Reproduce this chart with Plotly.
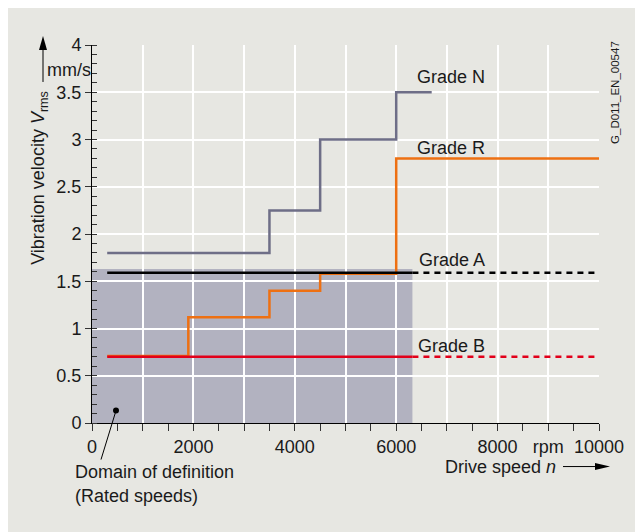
import plotly.graph_objects as go

# ---- data ----
grade_N_x = [300, 3500, 4500, 6000, 6700]
grade_N_y = [1.8, 2.25, 3.0, 3.5, 3.5]
grade_R_x = [300, 1900, 3500, 4500, 6000, 10000]
grade_R_y = [0.71, 1.12, 1.4, 1.58, 2.8, 2.8]
grade_A_level = 1.59
grade_B_level = 0.70
speed_start = 300
domain_end = 6320
domain_top = 1.63
speed_max = 10000
x_grid_step = 1000
x_tick_vals = [0, 2000, 4000, 6000, 8000, 9000, 10000]
x_tick_text = ["0", "2000", "4000", "6000", "8000", "rpm", "10000"]
y_tick_vals = [0, 0.5, 1, 1.5, 2, 2.5, 3, 3.5, 4]
y_tick_text = ["0", "0.5", "1", "1.5", "2", "2.5", "3", "3.5", "4"]

BG = "#e7e7e2"
SHADE = "#b2b2c0"
GREY_N = "#6e6e87"
ORANGE = "#ee7012"
RED = "#e2001a"
TXT = "#1a1a1a"
FONT = "Liberation Sans, Arial, sans-serif"

OFF = 8  # page body margin
W, H = 643, 532
L = 92 - OFF
T = 45 - OFF
R = W - (599 - OFF)
B = H - (423.4 - OFF)
PW = W - L - R
PH = H - T - B


def px(xs):
    return (xs - OFF - L) / PW


def py(ys):
    return (H - B - (ys - OFF)) / PH


fig = go.Figure()
fig.add_trace(go.Scatter(x=grade_N_x, y=grade_N_y, mode="lines", line_shape="hv",
                         line=dict(color=GREY_N, width=2.5), hoverinfo="skip"))
fig.add_trace(go.Scatter(x=grade_R_x, y=grade_R_y, mode="lines", line_shape="hv",
                         line=dict(color=ORANGE, width=2.5), hoverinfo="skip"))
fig.add_trace(go.Scatter(x=[speed_start, domain_end], y=[grade_A_level] * 2, mode="lines",
                         line=dict(color="black", width=2.5), hoverinfo="skip"))
fig.add_trace(go.Scatter(x=[domain_end, speed_max], y=[grade_A_level] * 2, mode="lines",
                         line=dict(color="black", width=2.5, dash="6px,5px"), hoverinfo="skip"))
fig.add_trace(go.Scatter(x=[speed_start, domain_end], y=[grade_B_level] * 2, mode="lines",
                         line=dict(color=RED, width=2.5), hoverinfo="skip"))
fig.add_trace(go.Scatter(x=[domain_end, speed_max], y=[grade_B_level] * 2, mode="lines",
                         line=dict(color=RED, width=2.5, dash="6px,5px"), hoverinfo="skip"))
# invisible trace carrying the labelled x axis
fig.add_trace(go.Scatter(x=[0, speed_max], y=[0, 0], xaxis="x2", mode="lines",
                         line=dict(width=0), opacity=0, hoverinfo="skip"))

shapes = []
shapes.append(dict(type="rect", xref="x", yref="y", x0=0, x1=domain_end, y0=0, y1=domain_top,
                   fillcolor=SHADE, line=dict(width=0), layer="below"))
# leader line + dot
shapes.append(dict(type="line", xref="paper", yref="paper", x0=px(116), y0=py(411), x1=px(101), y1=py(460),
                   line=dict(color="black", width=1)))
shapes.append(dict(type="circle", xref="paper", yref="paper", x0=px(113), x1=px(119), y0=py(408), y1=py(414),
                   fillcolor="black", line=dict(width=0)))
# y axis arrow
shapes.append(dict(type="line", xref="paper", yref="paper", x0=px(43), x1=px(43), y0=py(82), y1=py(48),
                   line=dict(color="black", width=1)))
shapes.append(dict(type="path", xref="paper", yref="paper",
                   path=f"M {px(43)} {py(36)} L {px(39)} {py(50)} L {px(47)} {py(50)} Z",
                   fillcolor="black", line=dict(width=0)))
# x axis arrow
shapes.append(dict(type="line", xref="paper", yref="paper", x0=px(563), x1=px(598), y0=py(467), y1=py(467),
                   line=dict(color="black", width=1)))
shapes.append(dict(type="path", xref="paper", yref="paper",
                   path=f"M {px(610)} {py(467)} L {px(595)} {py(463.5)} L {px(595)} {py(470.5)} Z",
                   fillcolor="black", line=dict(width=0)))

ann = []
f18 = dict(family=FONT, size=18, color=TXT)
for txt, xv, yv in [("Grade N", 6370, 3.66), ("Grade R", 6370, 2.915),
                    ("Grade A", 6420, 1.727), ("Grade B", 6390, 0.82)]:
    ann.append(dict(text=txt, x=xv, y=yv, xref="x", yref="y", xanchor="left", yanchor="middle",
                    showarrow=False, font=f18))
ann.append(dict(text="Vibration velocity <i>V</i><sub>rms</sub>", x=px(40), y=py(178), xref="paper", yref="paper",
                textangle=-90, xanchor="center", yanchor="middle", showarrow=False, font=f18))
ann.append(dict(text="mm/s", x=px(69), y=py(70), xref="paper", yref="paper",
                xanchor="center", yanchor="middle", showarrow=False, font=f18))
ann.append(dict(text="Drive speed <i>n</i>", x=px(443), y=py(467), xref="paper", yref="paper",
                xanchor="left", yanchor="middle", showarrow=False, font=f18))
ann.append(dict(text="Domain of definition", x=px(73), y=py(472), xref="paper", yref="paper",
                xanchor="left", yanchor="middle", showarrow=False, font=f18))
ann.append(dict(text="(Rated speeds)", x=px(73), y=py(496), xref="paper", yref="paper",
                xanchor="left", yanchor="middle", showarrow=False, font=f18))
ann.append(dict(text="G_D011_EN_00547", x=px(615), y=py(93), xref="paper", yref="paper",
                textangle=-90, xanchor="center", yanchor="middle", showarrow=False,
                font=dict(family=FONT, size=11.5, color=TXT)))

fig.update_layout(
    width=W, height=H, margin=dict(l=L, r=R, t=T, b=B),
    paper_bgcolor=BG, plot_bgcolor=BG, showlegend=False,
    annotations=ann, shapes=shapes,
    xaxis=dict(range=[0, speed_max], tickmode="linear", tick0=0, dtick=x_grid_step,
               showgrid=True, gridcolor="white", gridwidth=2, zeroline=False,
               showline=True, linecolor="black", linewidth=1,
               ticks="outside", ticklen=7, tickcolor="#333", tickwidth=1, showticklabels=False,
               minor=dict(dtick=x_grid_step / 2, tick0=0, ticks="outside", ticklen=7, tickcolor="#333",
                          showgrid=False),
               fixedrange=True),
    xaxis2=dict(range=[0, speed_max], overlaying="x", anchor="y", side="bottom",
                tickmode="array", tickvals=x_tick_vals, ticktext=x_tick_text,
                showgrid=False, zeroline=False, showline=False, ticks="outside", ticklen=7,
                tickcolor="rgba(0,0,0,0)", tickfont=f18, fixedrange=True),
    yaxis=dict(range=[0, 4], tickmode="array", tickvals=y_tick_vals, ticktext=y_tick_text,
               showgrid=True, gridcolor="white", gridwidth=2, zeroline=False,
               showline=True, linecolor="black", linewidth=1,
               ticks="outside", ticklen=6, tickcolor="#333", tickwidth=1,
               minor=dict(dtick=0.1, tick0=0, ticks="inside", ticklen=5, tickcolor="#333", showgrid=False),
               tickfont=f18, fixedrange=True),
)

fig.write_html("out.html")
